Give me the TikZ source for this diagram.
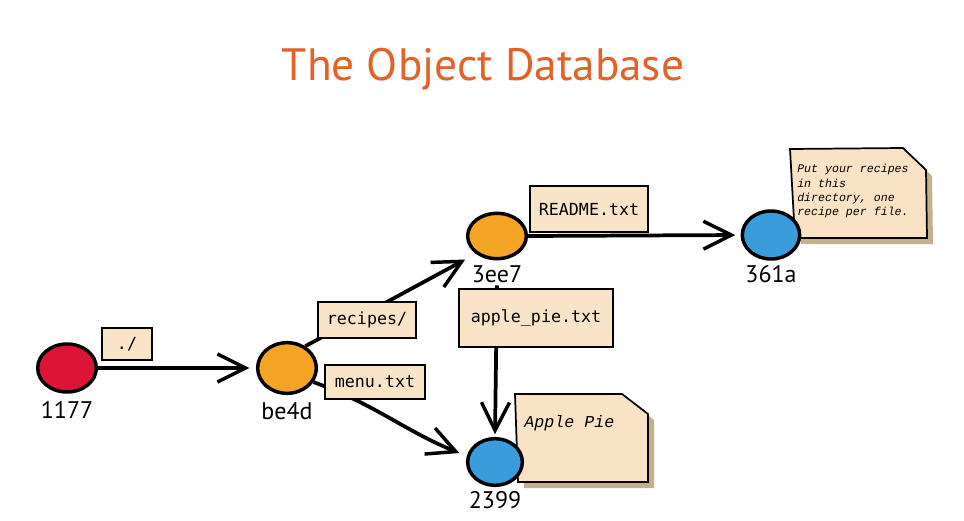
\documentclass[tikz,border=0pt]{standalone}
\usepackage{fontspec}
\usetikzlibrary{arrows.meta,shapes.geometric}
\newfontfamily\sansf{PT Sans}
\newfontfamily\monof{DejaVu Sans Mono}
\newfontfamily\notef{Liberation Mono}
\definecolor{peach}{RGB}{250,228,200}
\definecolor{notefill}{RGB}{250,226,196}
\definecolor{tan}{RGB}{196,176,138}
\definecolor{titleor}{RGB}{226,98,40}
\definecolor{objred}{RGB}{222,20,55}
\definecolor{objor}{RGB}{244,164,36}
\definecolor{objblue}{RGB}{58,156,218}
\tikzset{
  obj/.style={ellipse, draw=black, line width=2.6pt, minimum width=44pt, minimum height=36pt, inner sep=0pt},
  objlbl/.style={font=\sansf\fontsize{18}{18}\selectfont, inner sep=0pt},
  fname/.style={draw=black, line width=1.3pt, fill=peach, font=\monof\fontsize{12.5}{12.5}\selectfont, inner sep=0pt},
  arr/.style={line width=2.8pt, -{Straight Barb[length=21pt,width=21pt,line width=2.6pt]}},
  notebox/.style={draw=black, line width=1.3pt, fill=notefill},
  noteshadow/.style={fill=tan},
  notetext/.style={font=\notef\itshape, align=left, inner sep=0pt, anchor=north west}
}
\begin{document}
\begin{tikzpicture}[x=0.75pt,y=-0.75pt]
\path[use as bounding box, fill=white] (0,0) rectangle (964,521);
% title
\node[text=titleor, font=\sansf\fontsize{34}{34}\selectfont] (title) at (483,69) {The Object Database};
% notes
\fill[noteshadow] (796,155) -- (909,154) -- (932,176) -- (933,244) -- (801,244) -- cycle;
\draw[notebox] (790,149) -- (903,148) -- (926,170) -- (927,238) -- (795,238) -- cycle;
\node[notetext, font=\notef\itshape\fontsize{8.7}{10.8}\selectfont] (note361) at (797,164) {Put your recipes\\in this\\directory, one\\recipe per file.};
\fill[noteshadow] (521,400) -- (628,400) -- (654,420) -- (654,488) -- (524,488) -- cycle;
\draw[notebox] (515,394) -- (622,394) -- (648,414) -- (648,482) -- (518,482) -- cycle;
\node[notetext, font=\notef\itshape\fontsize{12.5}{12.5}\selectfont] (note2399) at (524,415) {Apple Pie};
% objects
\node[obj, fill=objred] (n1177) at (67,368) {};
\node[obj, fill=objor, minimum height=38pt] (nbe4d) at (287,368) {};
\node[obj, fill=objor, minimum height=34pt] (n3ee7) at (497,236) {};
\node[obj, fill=objblue, minimum width=43pt] (n361a) at (771,235) {};
\node[obj, fill=objblue, minimum width=41pt, minimum height=35pt] (n2399) at (495,462) {};
% labels
\node[objlbl] (l1177) at (67,410) {1177};
\node[objlbl] (lbe4d) at (287,411) {be4d};
\node[objlbl] (l3ee7) at (497,274) {3ee7};
\node[objlbl] (l361a) at (771,274) {361a};
\node[objlbl] (l2399) at (495,500) {2399};
% connectors
\draw[arr, shorten >=5pt] (n1177.east) -- (nbe4d.west);
\draw[arr, shorten >=9pt] (nbe4d.50) -- (n3ee7.220);
\draw[arr, shorten >=6pt] (nbe4d.-28) to[out=-20, in=158] (n2399.168);
\draw[arr, shorten >=4pt] (n3ee7.east) -- (n361a.west);
\draw[arr, shorten <=2pt, shorten >=2pt] (l3ee7.south) -- (n2399.north);
% file name boxes
\node[fname, minimum width=37.5pt, minimum height=24pt] (bdot) at (127,344) {./};
\node[fname, minimum width=74pt, minimum height=27pt] (brec) at (367,320) {recipes/};
\node[fname, minimum width=75pt, minimum height=26pt] (bmenu) at (375,382) {menu.txt};
\node[fname, minimum width=88.5pt, minimum height=34pt] (bread) at (589,209) {README.txt};
\node[fname, minimum width=115pt, minimum height=44pt] (bapple) at (536,318) {apple\_pie.txt};
\end{tikzpicture}
\end{document}
